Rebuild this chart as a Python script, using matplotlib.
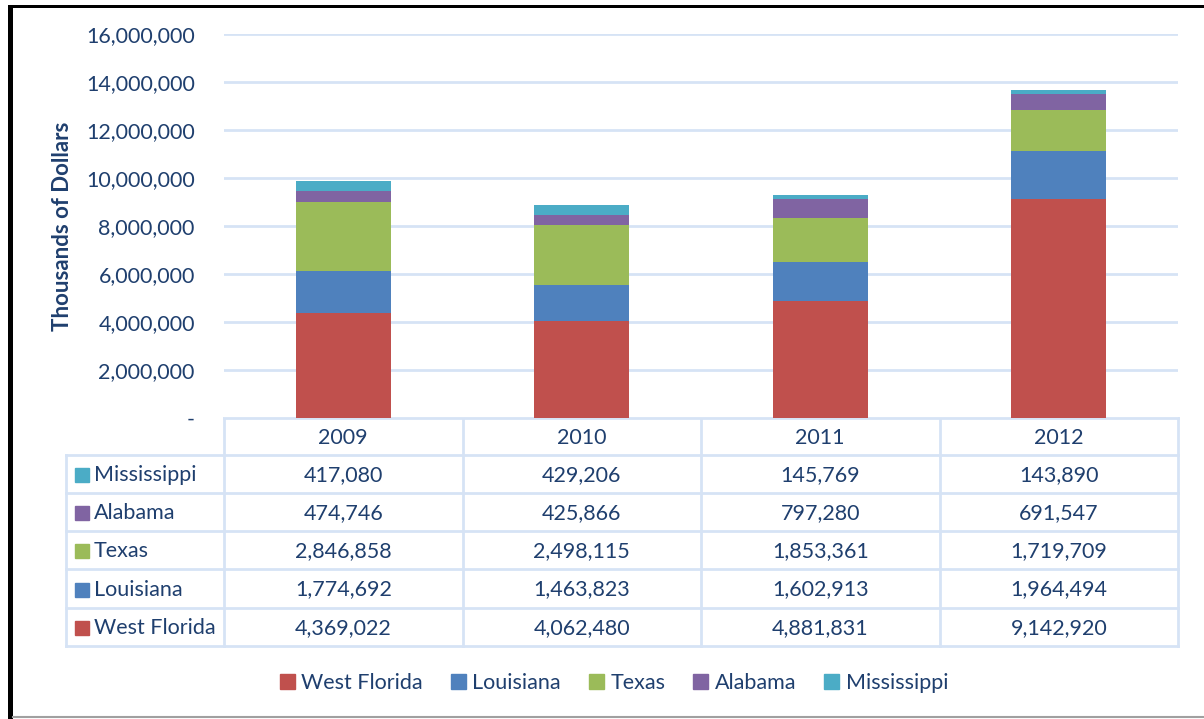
import matplotlib
matplotlib.use("Agg")
import matplotlib.pyplot as plt
from matplotlib.patches import Rectangle, Patch
from matplotlib.ticker import FuncFormatter
import numpy as np

plt.rcParams['font.family'] = ['Lato', 'DejaVu Sans']

years = ["2009", "2010", "2011", "2012"]
states = ["West Florida", "Louisiana", "Texas", "Alabama", "Mississippi"]
west_florida = [4369022, 4062480, 4881831, 9142920]
louisiana = [1774692, 1463823, 1602913, 1964494]
texas = [2846858, 2498115, 1853361, 1719709]
alabama = [474746, 425866, 797280, 691547]
mississippi = [417080, 429206, 145769, 143890]
yticks = [0, 2000000, 4000000, 6000000, 8000000, 10000000, 12000000, 14000000, 16000000]

series = [west_florida, louisiana, texas, alabama, mississippi]
colors = ["#C0504D", "#4F81BD", "#9BBB59", "#8064A2", "#4BACC6"]
text_color = "#1F3F6E"
grid_color = "#D6E3F5"
fs = 15.5

W, H = 1204, 719
fig = plt.figure(figsize=(W / 100, H / 100), dpi=100)

# pixel-space overlay for frame and data table
ov = fig.add_axes([0, 0, 1, 1])
ov.set_xlim(0, W)
ov.set_ylim(H, 0)
ov.axis("off")

# plot area
x0, x1, ytop, ybot = 224, 1178, 34, 418
ax = fig.add_axes([x0 / W, (H - ybot) / H, (x1 - x0) / W, (ybot - ytop) / H])
ax.set_xlim(-0.5, len(years) - 0.5)
ax.set_ylim(0, 16000000)
ax.set_yticks(yticks)
ax.yaxis.set_major_formatter(FuncFormatter(lambda v, p: "-" if v == 0 else f"{v:,.0f}"))
ax.set_xticks([])
for s in ax.spines.values():
    s.set_visible(False)
ax.tick_params(axis="y", length=0, pad=21, labelsize=fs, labelcolor=text_color)
ax.grid(axis="y", color=grid_color, linewidth=2)
ax.set_axisbelow(True)
ax.set_ylabel("Thousands of Dollars", fontsize=16, fontweight="bold", color=text_color, labelpad=9)

xpos = np.arange(len(years))
bottom = np.zeros(len(years))
for vals, c, name in zip(series, colors, states):
    ax.bar(xpos, vals, width=0.4, bottom=bottom, color=c, label=name, zorder=3)
    bottom += np.array(vals)

# data table below the plot
col_w = (x1 - x0) / len(years)
lab_x0 = 66
row_edges = [418, 455, 493, 531, 569, 608, 646]
lw = 2
ov.plot([x0, x1], [row_edges[0], row_edges[0]], color=grid_color, lw=lw)
for i in range(len(years) + 1):
    xx = x0 + i * col_w
    ov.plot([xx, xx], [row_edges[0], row_edges[-1]], color=grid_color, lw=lw)
ov.plot([lab_x0, lab_x0], [row_edges[1], row_edges[-1]], color=grid_color, lw=lw)
for yy in row_edges[1:]:
    ov.plot([lab_x0, x1], [yy, yy], color=grid_color, lw=lw)

for i, yr in enumerate(years):
    ov.text(x0 + (i + 0.5) * col_w, (row_edges[0] + row_edges[1]) / 2 + 1, yr,
            ha="center", va="center", fontsize=fs, color=text_color)

table_order = [4, 3, 2, 1, 0]
for r, si in enumerate(table_order):
    yc = (row_edges[r + 1] + row_edges[r + 2]) / 2 + 1
    ov.add_patch(Rectangle((75, yc - 7), 14, 14, color=colors[si]))
    ov.text(94, yc, states[si], ha="left", va="center", fontsize=fs, color=text_color)
    for i in range(len(years)):
        ov.text(x0 + (i + 0.5) * col_w, yc, f"{series[si][i]:,}",
                ha="center", va="center", fontsize=fs, color=text_color)

# legend
handles = [Patch(color=c, label=n) for c, n in zip(colors, states)]
fig.legend(handles=handles, loc="center", bbox_to_anchor=(614 / W, (H - 683) / H), ncol=5,
           frameon=False, fontsize=fs, labelcolor=text_color, handlelength=0.7,
           handleheight=0.7, handletextpad=0.3, columnspacing=1.3)

# outer frame
ov.add_patch(Rectangle((8, 5), 5, H - 5, color="black", lw=0))
ov.add_patch(Rectangle((8, 5), W - 8, 3, color="black", lw=0))
ov.plot([13, W], [717, 717], color="#A0A0A0", lw=1.5)

fig.savefig("out.png", dpi=100)
